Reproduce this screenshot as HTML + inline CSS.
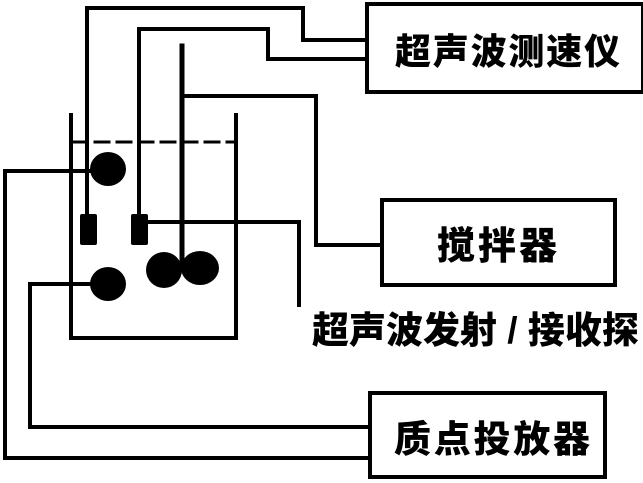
<!DOCTYPE html>
<html><head><meta charset="utf-8"><style>
html,body{margin:0;padding:0;background:#fff}
svg{display:block}
text{font-family:"Liberation Sans","Noto Sans CJK SC",sans-serif;font-weight:900;fill:#000}
</style></head><body>
<svg width="643" height="483" viewBox="0 0 643 483" xmlns="http://www.w3.org/2000/svg">
<g fill="none" stroke="#000" stroke-width="4" stroke-linecap="square">
<polyline points="87,214 87,8 303,8 303,40 367,40"/>
<polyline points="139,213 139,29 268,29 268,59 367,59"/>
<line x1="182" y1="46" x2="182" y2="268" stroke-width="5"/>
<polyline points="182,96 316,96 316,245 382,245"/>
<polyline points="71,115 71,338 236,338 236,115"/>
<line x1="73" y1="142" x2="234" y2="142" stroke-dasharray="14,8" stroke-width="3"/>
<polyline points="95,171 5,171 5,458 370,458"/>
<polyline points="140,222 299,222 299,305"/>
<polyline points="95,284 30,284 30,427 370,427"/>
<rect x="367" y="4" width="276" height="88"/>
<rect x="382" y="200" width="233" height="85"/>
<rect x="370" y="393" width="235" height="84"/>
</g>
<g fill="#000">
<ellipse cx="108" cy="169" rx="18" ry="17"/>
<ellipse cx="108" cy="284" rx="18" ry="17"/>
<ellipse cx="164" cy="270" rx="18" ry="18"/>
<ellipse cx="200" cy="268" rx="19" ry="17"/>
<rect x="80" y="214" width="17" height="31" rx="2"/>
<rect x="131" y="214" width="17" height="31" rx="2"/>
</g>
<text x="395" y="64" font-size="36" textLength="225" lengthAdjust="spacing">超声波测速仪</text>
<text x="437" y="259" font-size="38" textLength="120" lengthAdjust="spacing">搅拌器</text>
<text x="394" y="452" font-size="37" textLength="196" lengthAdjust="spacing">质点投放器</text>
<text x="312" y="343" font-size="37">超声波发射 / 接收探</text>
</svg>
</body></html>
